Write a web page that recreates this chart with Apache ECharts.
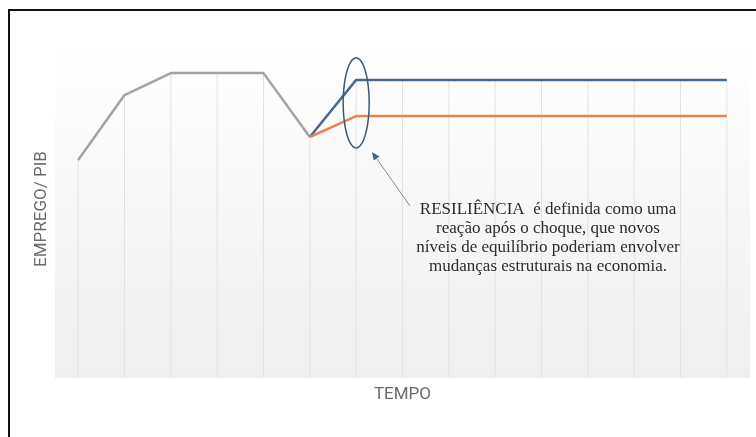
<!DOCTYPE html>
<html>
<head>
<meta charset="utf-8">
<script src="https://cdn.jsdelivr.net/npm/echarts@6/dist/echarts.min.js"></script>
<style>
html,body{margin:0;padding:0;background:#fff;}
#main{width:756px;height:437px;}
</style>
</head>
<body>
<div id="main"></div>
<script>
// ---- data ----
var categories = ['t1','t2','t3','t4','t5','t6','t7','t8','t9','t10','t11','t12','t13','t14','t15'];
var preShock   = [64.5, 83.7, 90.2, 90.2, 90.2, 71.3, null, null, null, null, null, null, null, null, null];
var newLevelHigh = [null, null, null, null, null, 71.3, 88.2, 88.2, 88.2, 88.2, 88.2, 88.2, 88.2, 88.2, 88.2];
var newLevelLow  = [null, null, null, null, null, 71.3, 77.5, 77.5, 77.5, 77.5, 77.5, 77.5, 77.5, 77.5, 77.5];
var yAxisTitle = 'EMPREGO/ PIB';
var xAxisTitle = 'TEMPO';
var noteText = 'RESILIÊNCIA  é definida como uma\nreação após o choque, que novos\nníveis de equilíbrio poderiam envolver\nmudanças estruturais na economia.';
var ellipseCenter = {cat: 6, value: 81.4};

// drop lines: from the highest series value down to the axis
var dropLines = categories.map(function (c, i) {
  var vals = [preShock[i], newLevelHigh[i], newLevelLow[i]].filter(function (v) { return v != null; });
  return Math.max.apply(null, vals);
});

var chart = echarts.init(document.getElementById('main'), null, {renderer: 'canvas'});
var option = {
  animation: false,
  backgroundColor: '#ffffff',
  grid: {
    left: 55, right: 6, top: 40, bottom: 59,
    show: true, borderWidth: 0,
    backgroundColor: new echarts.graphic.LinearGradient(0, 0, 0, 1, [
      {offset: 0, color: '#ffffff'},
      {offset: 0.25, color: '#fbfbfb'},
      {offset: 1, color: '#efefef'}
    ])
  },
  xAxis: {
    type: 'category',
    data: categories,
    boundaryGap: true,
    axisLine: {show: false},
    axisTick: {show: false},
    axisLabel: {show: false},
    splitLine: {show: false},
    name: xAxisTitle,
    nameLocation: 'middle',
    nameGap: 8,
    nameTextStyle: {color: '#6a6a6a', fontSize: 17, fontFamily: 'Roboto', verticalAlign: 'top'}
  },
  yAxis: {
    type: 'value',
    min: 0, max: 100,
    axisLine: {show: false},
    axisTick: {show: false},
    axisLabel: {show: false},
    splitLine: {show: false},
    name: yAxisTitle,
    nameLocation: 'middle',
    nameRotate: 90,
    nameGap: 5,
    nameTextStyle: {color: '#6a6a6a', fontSize: 17, fontFamily: 'Roboto'}
  },
  series: [
    {
      name: 'drop', type: 'bar', data: dropLines, barWidth: 1, silent: true, z: 1,
      itemStyle: {color: '#e3e3e3'}
    },
    {
      name: 'pre', type: 'line', data: preShock, symbol: 'none', z: 3,
      lineStyle: {color: '#a3a3a3', width: 2.5}
    },
    {
      name: 'high', type: 'line', data: newLevelHigh, symbol: 'none', z: 3,
      lineStyle: {color: '#4a6896', width: 2.5}
    },
    {
      name: 'low', type: 'line', data: newLevelLow, symbol: 'none', z: 3,
      lineStyle: {color: '#e8834c', width: 2.5}
    }
  ]
};
chart.setOption(option);

// annotation overlay
var c = chart.convertToPixel({gridIndex: 0}, [ellipseCenter.cat, ellipseCenter.value]);
var rx = 13, ry = 45, pts = [];
for (var k = 0; k < 72; k++) {
  var a = k / 72 * Math.PI * 2;
  pts.push([c[0] + rx * Math.cos(a), c[1] + ry * Math.sin(a)]);
}
var ax0 = 410, ay0 = 206, ax1 = 372, ay1 = 152;
var ang = Math.atan2(ay1 - ay0, ax1 - ax0);
var hl = 8, hw = 3.5;
var bx = ax1 - hl * Math.cos(ang), by = ay1 - hl * Math.sin(ang);
var head = [
  [ax1, ay1],
  [bx + hw * Math.sin(ang), by - hw * Math.cos(ang)],
  [bx - hw * Math.sin(ang), by + hw * Math.cos(ang)]
];
chart.setOption({
  graphic: [
    {type: 'polygon', shape: {points: pts}, style: {fill: 'none', stroke: '#3f5676', lineWidth: 1.5}, z: 10},
    {type: 'line', shape: {x1: ax0, y1: ay0, x2: bx, y2: by}, style: {stroke: '#7d8ca6', lineWidth: 1}, z: 10},
    {type: 'polygon', shape: {points: head}, style: {fill: '#4c5f86'}, z: 10},
    {type: 'text', x: 548, y: 200, z: 10,
      style: {text: noteText, fill: '#2b2b2b', font: '17px "Liberation Serif"', align: 'center', verticalAlign: 'top', lineHeight: 19}},
    {type: 'rect', shape: {x: 9, y: 10, width: 800, height: 500}, style: {fill: 'none', stroke: '#111', lineWidth: 2}, z: 20}
  ]
});
</script>
</body>
</html>
